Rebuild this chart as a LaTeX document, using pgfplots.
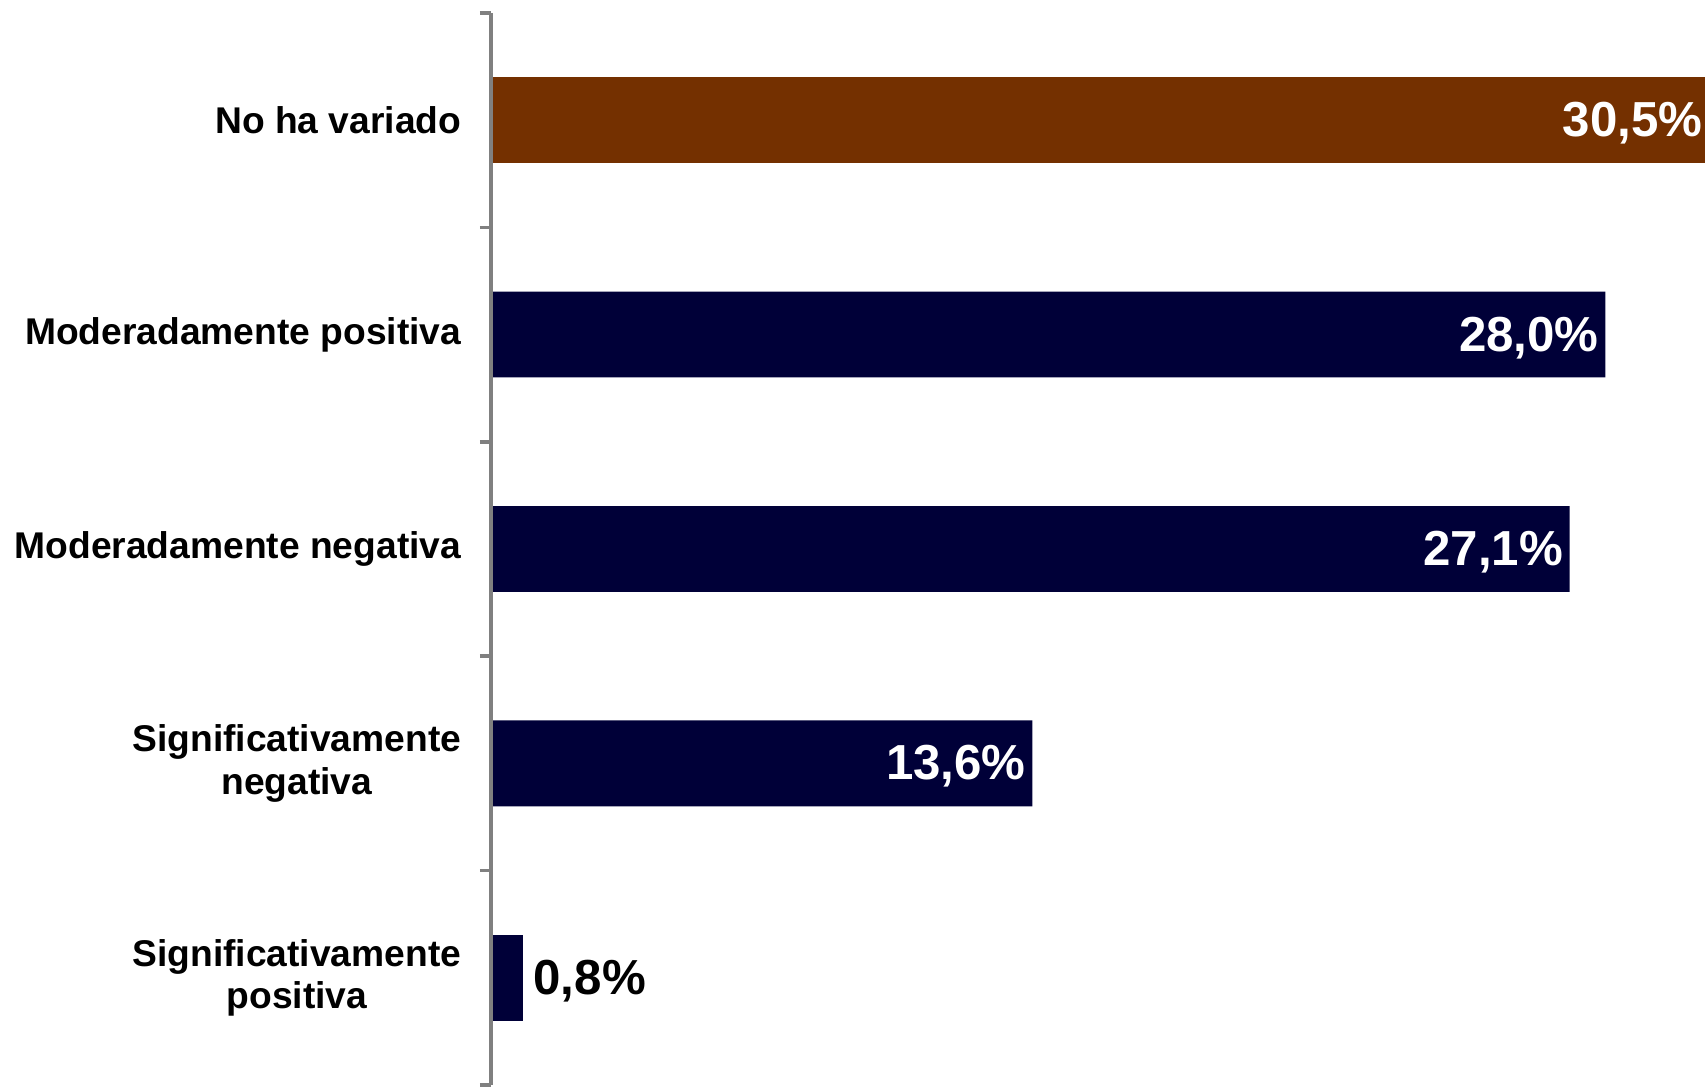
\documentclass[border=0pt]{standalone}
\usepackage{pgfplots}
\pgfplotsset{compat=1.18}
\usepackage{fontspec}
\setmainfont{Liberation Sans}
\definecolor{brownbar}{RGB}{116,48,0}
\definecolor{navybar}{RGB}{0,0,56}
\definecolor{axgray}{RGB}{128,128,128}
\begin{document}
\begin{tikzpicture}
\begin{axis}[
  scale only axis,
  width=303.5pt, height=268pt,
  xbar, bar shift=0pt, bar width=0.4,
  xmin=0, xmax=30.5,
  ymin=-0.5, ymax=4.5,
  axis x line=none,
  axis y line=left,
  axis line style={-, axgray, line width=1pt},
  axis on top,
  ytick={0,1,2,3,4},
  yticklabels={{Significativamente\\positiva},{Significativamente\\negativa},{Moderadamente negativa},{Moderadamente positiva},{No ha variado}},
  yticklabel style={align=center, inner sep=0pt, font=\fontsize{9.3}{10.6}\selectfont\bfseries},
  yticklabel shift=7.25pt,
  major tick length=0pt,
  minor ytick={-0.5,0.5,1.5,2.5,3.5,4.5},
  minor tick length=2.75pt,
  tick align=outside,
  minor tick style={axgray, line width=0.9pt},
  /pgf/number format/assume math mode=true,
  point meta=x,
  nodes near coords={\pgfmathprintnumber[fixed,fixed zerofill,precision=1,use comma]{\pgfplotspointmeta}\%},
  every node near coord/.append style={font=\fontsize{12.3}{14}\selectfont\bfseries, yshift=-0.8pt},
]
\addplot[fill=brownbar, draw=none,
  every node near coord/.append style={anchor=east, inner sep=0.5pt, text=white}]
  coordinates {(30.5,4)};
\addplot[fill=navybar, draw=none,
  every node near coord/.append style={anchor=east, inner sep=1.5pt, text=white}]
  coordinates {(28.0,3) (27.1,2) (13.6,1)};
\addplot[fill=navybar, draw=none,
  every node near coord/.append style={anchor=west, inner sep=2.5pt, text=black}]
  coordinates {(0.8,0)};
\end{axis}
\path ([xshift=-122.75pt,yshift=-0.5pt]current axis.south west) rectangle ([xshift=0.5pt,yshift=3.25pt]current axis.north east);
\end{tikzpicture}
\end{document}
